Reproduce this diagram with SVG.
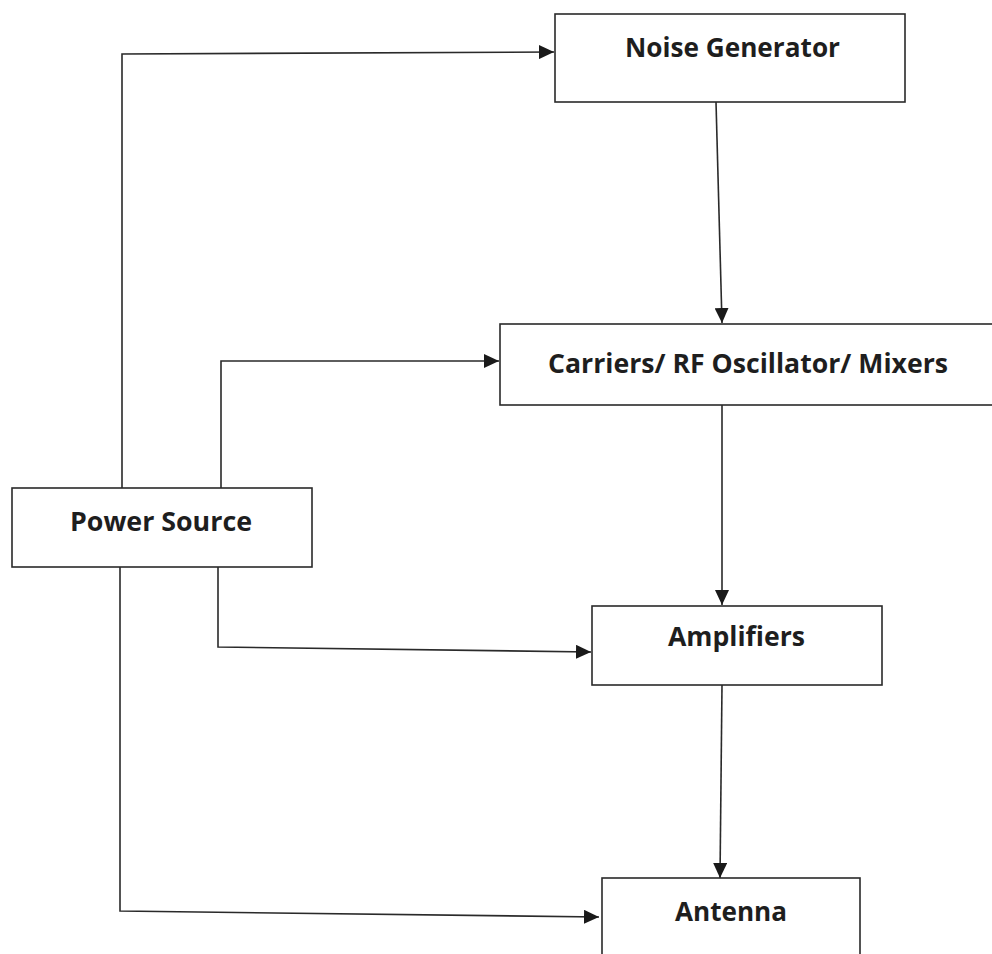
<svg xmlns="http://www.w3.org/2000/svg" width="992" height="954" viewBox="0 0 992 954">
<style>
.box{fill:#fff;stroke:#2a2a2a;stroke-width:1.6}
.lbl{font-family:"Open Sans","Noto Sans","Liberation Sans",sans-serif;font-weight:700;font-size:26px;fill:#1e1e1e}
.con{fill:none;stroke:#2a2a2a;stroke-width:1.6}
</style>
<defs>
<marker id="ah" markerUnits="userSpaceOnUse" markerWidth="16" markerHeight="14" refX="15" refY="7" orient="auto">
<path d="M0,0 L15,7 L0,14 Z" fill="#1a1a1a"/>
</marker>
</defs>
<rect width="992" height="954" fill="#fff"/>
<g id="connectors">
<path class="con" d="M122,488 L122,54 L554,52" marker-end="url(#ah)"/>
<path class="con" d="M221,488 L221,361 L499,361" marker-end="url(#ah)"/>
<path class="con" d="M218,567 L218,647 L591,652" marker-end="url(#ah)"/>
<path class="con" d="M120,567 L120,911 L599,917" marker-end="url(#ah)"/>
<path class="con" d="M716,102 L722,323" marker-end="url(#ah)"/>
<path class="con" d="M722,405 L722,605" marker-end="url(#ah)"/>
<path class="con" d="M722,685 L720,878" marker-end="url(#ah)"/>
</g>
<g id="noise-generator">
<rect class="box" x="555" y="14" width="350" height="88"/>
<text class="lbl" x="625" y="57" textLength="215" lengthAdjust="spacingAndGlyphs">Noise Generator</text>
</g>
<g id="carriers">
<rect class="box" x="500" y="324" width="510" height="81"/>
<text class="lbl" x="548" y="373" textLength="400" lengthAdjust="spacingAndGlyphs">Carriers/ RF Oscillator/ Mixers</text>
</g>
<g id="power-source">
<rect class="box" x="12" y="488" width="300" height="79"/>
<text class="lbl" x="70" y="531" textLength="182" lengthAdjust="spacingAndGlyphs">Power Source</text>
</g>
<g id="amplifiers">
<rect class="box" x="592" y="606" width="290" height="79"/>
<text class="lbl" x="668" y="646" textLength="137" lengthAdjust="spacingAndGlyphs">Amplifiers</text>
</g>
<g id="antenna">
<rect class="box" x="602" y="878" width="258" height="90"/>
<text class="lbl" x="675" y="921" textLength="112" lengthAdjust="spacingAndGlyphs">Antenna</text>
</g>
</svg>
